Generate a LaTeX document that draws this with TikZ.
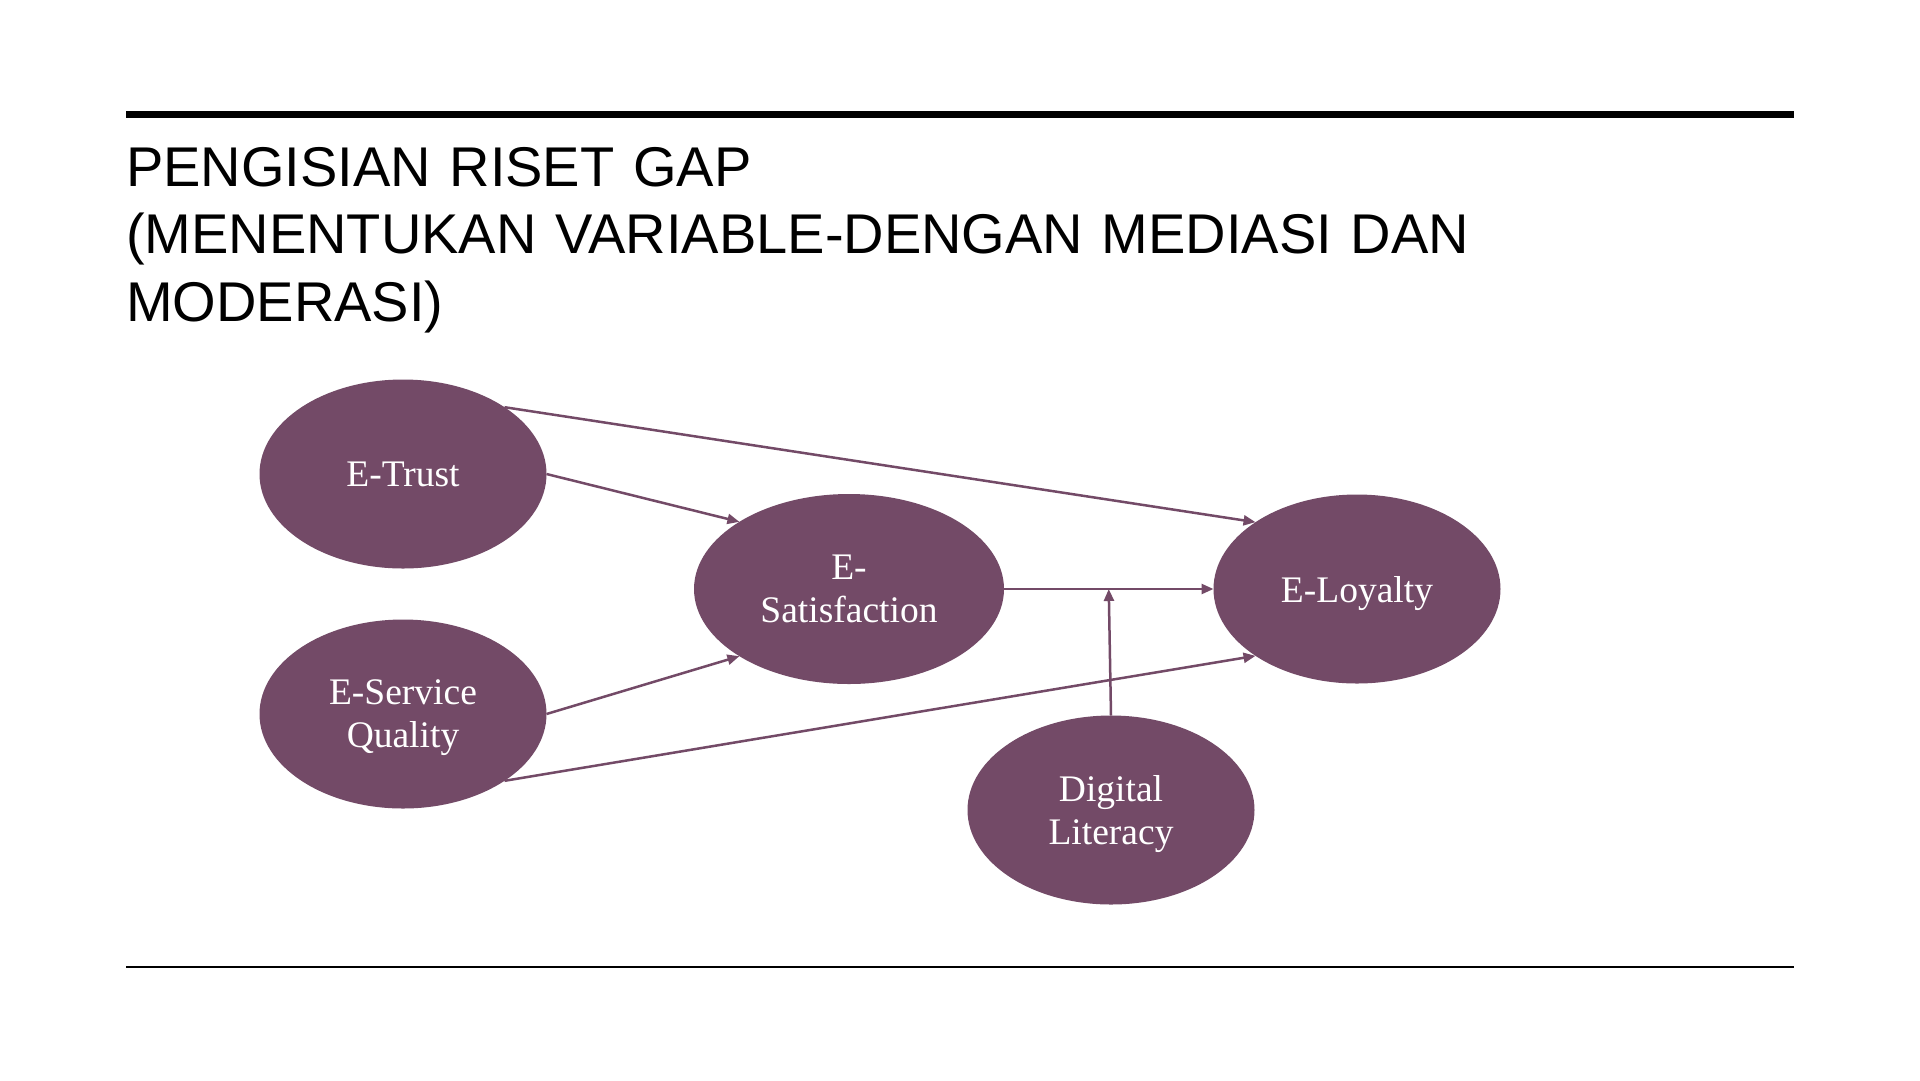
\documentclass[tikz,border=0pt]{standalone}
\usepackage{fontspec}
\usetikzlibrary{shapes.geometric,arrows.meta,calc}
\newfontfamily\titlefont[WordSpace=1.2]{Liberation Sans}
\newfontfamily\nodefont{Liberation Serif}
\definecolor{mauve}{RGB}{115,74,103}
\tikzset{
  var/.style={ellipse, fill=mauve, draw=none, inner sep=0pt, outer sep=0pt,
    minimum width=287pt, minimum height=189pt, text=white, align=center,
    text depth=0pt, font=\nodefont\fontsize{37.5}{43}\selectfont},
  titleline/.style={anchor=base west, inner sep=0pt, outer sep=0pt,
    font=\titlefont\fontsize{56}{67}\selectfont, text=black},
  link/.style={draw=mauve, line width=2.5pt, -{Triangle[length=12pt,width=10pt]}}
}
\begin{document}
\begin{tikzpicture}[x=1pt,y=-1pt]
\useasboundingbox (0,0) rectangle (1920,1080);
\fill[white] (0,0) rectangle (1920,1080);
% rules
\coordinate (tl) at (126,114.5);
\coordinate (tr) at (1794,114.5);
\coordinate (bl) at (126,966.5);
\coordinate (br) at (1794,966.5);
\draw[line width=7pt, black] (tl) -- (tr);
\draw[line width=2pt, black] (bl) -- (br);
% title
\node[titleline] (t1) at (126,186) {PENGISIAN RISET GAP};
\node[titleline] (t2) at (126,253) {(MENENTUKAN VARIABLE-DENGAN MEDIASI DAN};
\node[titleline] (t3) at (126,321) {MODERASI)};
% variables
\node[var] (trust) at (403,474) {E-Trust};
\node[var] (esq) at (403,714) {E-Service\\Quality};
\node[var, minimum width=310pt, minimum height=190pt] (sat) at (849,589) {E-\\Satisfaction};
\node[var] (loy) at (1357,589) {E-Loyalty};
\node[var] (dl) at (1111,810) {Digital\\Literacy};
% connectors
\draw[link] (trust.north east) -- (loy.north west);
\draw[link] (trust.east) -- (sat.north west);
\draw[link] (esq.east) -- (sat.south west);
\draw[link] (esq.south east) -- (loy.south west);
\draw[link] (sat.east) -- (loy.west);
\coordinate (mod) at ($(sat.east)!0.5!(loy.west)$);
\draw[link] (dl.north) -- (mod);
\end{tikzpicture}
\end{document}
